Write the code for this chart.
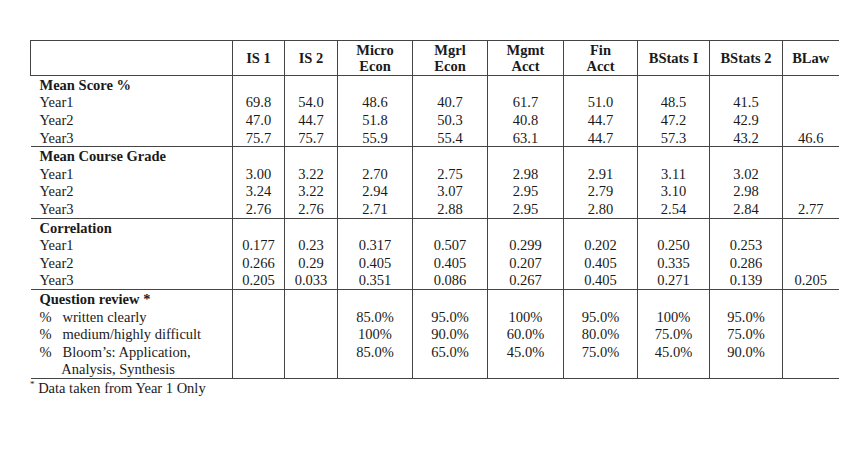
<!DOCTYPE html>
<html><head><meta charset="utf-8">
<script src="https://cdn.jsdelivr.net/npm/chart.js@4"></script>
<style>
body{margin:0;background:#fff;width:860px;height:459px;overflow:hidden;font-family:"Liberation Serif","Times New Roman",serif;color:#1a1a1a}
table{position:absolute;left:30px;top:40px;border-collapse:collapse;font-size:14.5px;table-layout:fixed}
td,th{padding:0 2px;height:17.6px;line-height:16px;text-align:center;border-left:1px solid #444;white-space:nowrap}
td:first-child,th:first-child{text-align:left;border-left:none;padding-left:9px}
th{font-weight:bold;height:34px;line-height:16px;border-bottom:1px solid #444;border-top:1px solid #444}
th:first-child{border-left:1px solid #444}
tr.sec td:first-child{font-weight:bold}
tr.sep td{border-top:1px solid #444}
tr.last td{border-bottom:1px solid #444}
#fn{position:absolute;left:30px;top:379px;font-size:14.5px}
#fn sup{font-size:9px}
</style></head><body>
<table id="t"></table>
<div id="fn"><sup>*</sup> Data taken from Year 1 Only</div>
<script>
const columns=["IS 1","IS 2","Micro<br>Econ","Mgrl<br>Econ","Mgmt<br>Acct","Fin<br>Acct","BStats I","BStats 2","BLaw"];
const widths=[202,52,53,75,75,76,74,72,73,56];
const meanScore=[
["Year1","69.8","54.0","48.6","40.7","61.7","51.0","48.5","41.5",""],
["Year2","47.0","44.7","51.8","50.3","40.8","44.7","47.2","42.9",""],
["Year3","75.7","75.7","55.9","55.4","63.1","44.7","57.3","43.2","46.6"]];
const meanGrade=[
["Year1","3.00","3.22","2.70","2.75","2.98","2.91","3.11","3.02",""],
["Year2","3.24","3.22","2.94","3.07","2.95","2.79","3.10","2.98",""],
["Year3","2.76","2.76","2.71","2.88","2.95","2.80","2.54","2.84","2.77"]];
const correlation=[
["Year1","0.177","0.23","0.317","0.507","0.299","0.202","0.250","0.253",""],
["Year2","0.266","0.29","0.405","0.405","0.207","0.405","0.335","0.286",""],
["Year3","0.205","0.033","0.351","0.086","0.267","0.405","0.271","0.139","0.205"]];
const review=[
["%&nbsp;&nbsp; written clearly","","","85.0%","95.0%","100%","95.0%","100%","95.0%",""],
["%&nbsp;&nbsp; medium/highly difficult","","","100%","90.0%","60.0%","80.0%","75.0%","75.0%",""],
["%&nbsp;&nbsp; Bloom’s: Application,","","","85.0%","65.0%","45.0%","75.0%","45.0%","90.0%",""],
["&nbsp;&nbsp;&nbsp;&nbsp;&nbsp;&nbsp;Analysis, Synthesis","","","","","","","","",""]];
const sections=[["Mean Score %",meanScore],["Mean Course Grade",meanGrade],["Correlation",correlation],["Question review *",review]];
let h='<colgroup>'+widths.map(w=>`<col style="width:${w}px">`).join('')+'</colgroup>';
h+='<tr><th></th>'+columns.map(c=>`<th>${c}</th>`).join('')+'</tr>';
sections.forEach(([name,rows],si)=>{
  h+=`<tr class="sec${si?' sep':''}"><td>${name}</td>${'<td></td>'.repeat(9)}</tr>`;
  rows.forEach((r,ri)=>{
    const cls=(si==3&&ri==rows.length-1)?' class="last"':'';
    h+=`<tr${cls}>`+r.map(v=>`<td>${v}</td>`).join('')+'</tr>';
  });
});
document.getElementById('t').innerHTML=h;
</script>
</body></html>
